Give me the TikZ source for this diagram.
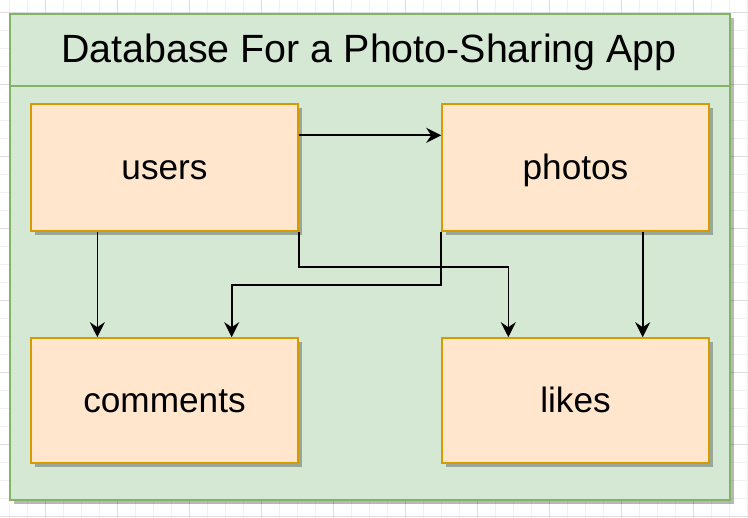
\documentclass[tikz,border=0pt]{standalone}
\usepackage{fontspec}
\setmainfont{Liberation Sans}
\usetikzlibrary{arrows.meta,calc,shadows}
\definecolor{contfill}{HTML}{D5E8D4}
\definecolor{contdraw}{HTML}{82B366}
\definecolor{boxfill}{HTML}{FFE6CC}
\definecolor{boxdraw}{HTML}{D79B00}
\definecolor{gridminor}{HTML}{F0F0F0}
\definecolor{gridmajor}{HTML}{DCDCDC}
\tikzset{
  shade4/.style={drop shadow={shadow xshift=4pt,shadow yshift=-4pt,opacity=0.28,fill=black}},
  tablebox/.style={rectangle,draw=boxdraw,fill=boxfill,line width=1.6pt,minimum width=267pt,minimum height=127pt,inner sep=0pt,shade4,font=\fontsize{35.2}{42}\selectfont,text height=25pt,text depth=0pt},
  conn/.style={draw=black,line width=1.7pt,-{Stealth[length=15pt,width=15pt,inset=5pt]}},
}
\begin{document}
\begin{tikzpicture}[x=1pt,y=-1pt]
\useasboundingbox (0,0) rectangle (748,518);
\fill[white] (0,0) rectangle (748,518);
% grid
\foreach \gx in {9,27,...,747} {\draw[gridminor,line width=1pt] (\gx,0) -- (\gx,518);}
\foreach \gy in {13,31,...,517} {\draw[gridminor,line width=1pt] (0,\gy) -- (748,\gy);}
\foreach \gx in {45,117,...,747} {\draw[gridmajor,line width=1pt] (\gx,0) -- (\gx,518);}
\foreach \gy in {13,85,...,517} {\draw[gridmajor,line width=1pt] (0,\gy) -- (748,\gy);}
% container
\node[rectangle,draw=contdraw,fill=contfill,line width=1.6pt,minimum width=720pt,minimum height=486pt,inner sep=0pt,shade4] (container) at (370,257) {};
\draw[contdraw,line width=1.6pt] (container.west |- 0,86) -- (container.east |- 0,86);
\node[font=\fontsize{39.4}{46}\selectfont,text height=24.6pt,text depth=0pt,inner sep=0pt] (title) at (369,50) {Database For a Photo-Sharing App};
% tables
\node[tablebox] (users) at (164.5,167.5) {users};
\node[tablebox] (photos) at (575.5,167.5) {photos};
\node[tablebox,minimum height=125pt] (comments) at (164.5,400.5) {comments};
\node[tablebox,minimum height=125pt] (likes) at (575.5,400.5) {likes};
% connectors
\draw[conn] ($(users.north east)!0.25!(users.south east)$) -- ($(photos.north west)!0.25!(photos.south west)$);
\draw[conn] ($(users.south west)!0.25!(users.south east)$) -- ($(comments.north west)!0.25!(comments.north east)$);
\draw[conn] (users.south east) -- ++(0,35) -| ($(likes.north west)!0.25!(likes.north east)$);
\draw[conn] (photos.south west) -- ++(0,53) -| ($(comments.north west)!0.75!(comments.north east)$);
\draw[conn] ($(photos.south west)!0.75!(photos.south east)$) -- ($(likes.north west)!0.75!(likes.north east)$);
\end{tikzpicture}
\end{document}
